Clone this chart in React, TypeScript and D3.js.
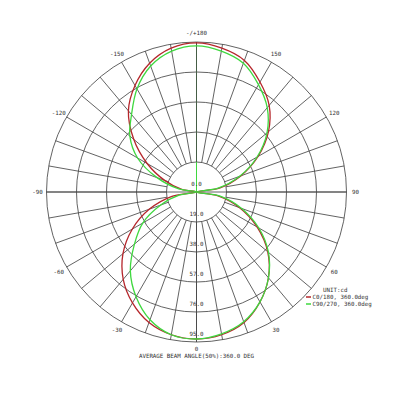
import React from "react";
import * as d3 from "d3";

// gamma angles (deg): 0 = bottom, 90 = right, ±180 = top
const angles = [
  -180, -170, -160, -150, -140, -130, -120, -110, -100, -90, -80, -70, -60, -50, -40, -30, -20, -10,
  0, 10, 20, 30, 40, 50, 60, 70, 80, 90, 100, 110, 120, 130, 140, 150, 160, 170,
];
// C0/180 plane (cd)
const c0Values = [
  94.4, 92.5, 86.8, 77.9, 67.1, 51.9, 36.1, 21.5, 9.5, 0, 15.8, 31.7, 46.9, 60.8, 72.2, 81.1, 88.0, 91.8,
  93.1, 91.8, 88.0, 80.4, 70.9, 58.9, 44.3, 29.1, 13.9, 0, 15.2, 29.8, 45.0, 59.5, 71.6, 80.4, 88.7, 92.5,
];
// C90/270 plane (cd)
const c90Values = [
  92.5, 90.6, 84.9, 75.4, 64.0, 55.1, 43.1, 26.6, 11.4, 0, 10.8, 24.1, 39.3, 51.3, 65.2, 76.6, 86.1, 91.8,
  93.1, 91.2, 87.4, 80.4, 70.9, 59.5, 45.6, 30.4, 15.2, 0, 13.9, 29.1, 44.3, 58.3, 69.7, 78.5, 86.8, 90.6,
];

const ringTicks = [19, 38, 57, 76, 95];
const ringLabels = ["0.0", "19.0", "38.0", "57.0", "76.0", "95.0"];
const ringLabelValues = [0, 19, 38, 57, 76, 95];
const angleLabelValues = [0, 30, 60, 90, 120, 150, 180, -150, -120, -90, -60, -30];
const angleLabelTexts = ["0", "30", "60", "90", "120", "150", "-/+180", "-150", "-120", "-90", "-60", "-30"];
const spokeAngles = d3.range(-170, 190, 10);

const seriesNames = ["C0/180, 360.0deg", "C90/270, 360.0deg"];
const seriesColors = ["#b5262b", "#3fd83f"];
const unitLabel = "UNIT:cd";
const titleText = "AVERAGE BEAM ANGLE(50%):360.0 DEG";

const cx = 196.5;
const cy = 192;
const R = 150;
const FONT = "'DejaVu Sans Mono', 'Liberation Mono', monospace";

export default function App() {
  const r = d3.scaleLinear().domain([0, 95]).range([0, R]);
  const toRad = (g: number) => ((180 - g) * Math.PI) / 180;
  const pt = (g: number, rad: number) => [rad * Math.sin(toRad(g)), -rad * Math.cos(toRad(g))];

  const line = d3
    .lineRadial<[number, number]>()
    .angle((d) => toRad(d[0]))
    .radius((d) => r(d[1]))
    .curve(d3.curveCatmullRomClosed.alpha(0.5));

  const c0Data = angles.map((a, i) => [a, c0Values[i]] as [number, number]);
  const c90Data = angles.map((a, i) => [a, c90Values[i]] as [number, number]);
  const topIdx = angles.indexOf(-180);
  const spike = d3
    .lineRadial<[number, number]>()
    .angle((d) => toRad(d[0]))
    .radius((d) => r(d[1]))([
    [180, 0],
    [180, c90Values[topIdx]],
  ]);

  const grid = "#474747";
  const r0 = r(ringTicks[0]);
  const spoke = (a: number, key: string) => {
    const [x1, y1] = pt(a, r0);
    const [x2, y2] = pt(a, R);
    return <line key={key} x1={x1} y1={y1} x2={x2} y2={y2} stroke={grid} strokeWidth={0.85} />;
  };

  return (
    <svg
      width={400}
      height={400}
      style={{ position: "absolute", left: 0, top: 0, background: "#fff" }}
    >
      <g transform={`translate(${cx},${cy})`}>
        {ringTicks.map((t) => (
          <circle key={t} r={r(t)} fill="none" stroke={grid} strokeWidth={0.85} />
        ))}
        {spokeAngles.map((a) => spoke(a, `s${a}`))}
        <line x1={-R} y1={0} x2={R} y2={0} stroke={grid} strokeWidth={0.85} />
        <line x1={0} y1={-R} x2={0} y2={R} stroke={grid} strokeWidth={0.85} />

        <path d={spike || ""} fill="none" stroke={seriesColors[1]} strokeWidth={1} />
        {spoke(180, "top")}
        <path d={line(c0Data) || ""} fill="none" stroke={seriesColors[0]} strokeWidth={1.3} />
        <path d={line(c90Data) || ""} fill="none" stroke={seriesColors[1]} strokeWidth={1.3} />

        {ringLabelValues.map((v, i) => (
          <text
            key={v}
            x={0}
            y={r(v) - 6.5}
            textAnchor="middle"
            fontFamily={FONT}
            fontSize={5.8}
            fill="#333"
          >
            {ringLabels[i]}
          </text>
        ))}
        {angleLabelValues.map((g, i) => {
          const [x, y] = pt(g, 159);
          return (
            <text
              key={g}
              x={x}
              y={g === 0 ? y - 0.5 : y + 2}
              textAnchor="middle"
              fontFamily={FONT}
              fontSize={5.8}
              fill="#333"
            >
              {angleLabelTexts[i]}
            </text>
          );
        })}
      </g>

      <text x={323} y={292} fontFamily={FONT} fontSize={5.8} fill="#333">
        {unitLabel}
      </text>
      {seriesNames.map((n, i) => (
        <g key={n} transform={`translate(306,${297 + i * 7})`}>
          <line x1={0} y1={0} x2={5} y2={0} stroke={seriesColors[i]} strokeWidth={1.5} />
          <text x={6.5} y={2} fontFamily={FONT} fontSize={5.8} fill="#333">
            {n}
          </text>
        </g>
      ))}
      <text x={cx} y={357.5} textAnchor="middle" fontFamily={FONT} fontSize={5.8} fill="#333">
        {titleText}
      </text>
    </svg>
  );
}
